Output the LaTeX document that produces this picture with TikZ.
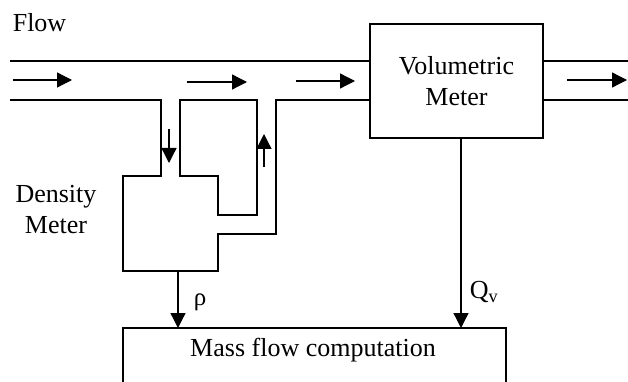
\documentclass[tikz,border=0pt]{standalone}
\usepackage{fontspec}
\setmainfont{Liberation Serif}
\usetikzlibrary{arrows.meta}
\begin{document}
\begin{tikzpicture}[x=1pt, y=-1pt, line width=1.6pt,
    every node/.style={font=\fontsize{26}{31}\selectfont, inner sep=0pt},
    flowarrow/.style={-{Triangle[length=15pt, width=15pt]}, line width=1.3pt},
    sigarrow/.style={-{Triangle[length=15pt, width=15pt]}, line width=1.3pt}]
        \useasboundingbox (0,0) rectangle (628,382);
        % pipe
        \draw (10,61)--(370,61);
        \draw (543,61)--(628,61);
        \draw (543,100)--(628,100);
        \draw (10,100)--(161,100)--(161,176)--(123,176)--(123,271)--(218,271)--(218,234)--(276,234)--(276,100)--(370,100);
        \draw (180,176)--(180,100)--(257,100)--(257,215)--(218,215)--(218,176)--cycle;
        % flow directions
        \draw[flowarrow] (13,80)--(72,80);
        \draw[flowarrow] (187,82)--(247,82);
        \draw[flowarrow] (296,81)--(355,81);
        \draw[flowarrow] (567,80)--(627,80);
        \draw[flowarrow] (169,129)--(169,163);
        \draw[flowarrow] (264,167)--(264,134);
        % blocks
        \node[draw, minimum width=173pt, minimum height=114pt, align=center] (vol) at (456.5,81) {Volumetric\\Meter};
        \node[align=center] (dens) at (56,210) {Density\\Meter};
        \node[anchor=west] (flow) at (12,23) {Flow};
        \coordinate (densout) at (178,271);
        \coordinate (rhoin) at (178,328);
        \coordinate (qvout) at (461,138);
        \coordinate (qvin) at (461,328);
        \draw (123,382)--(123,328)--(506,328)--(506,382);
        \node (mass) at (313,350) {Mass flow computation};
        % signals
        \draw[sigarrow] (densout)--(rhoin);
        \draw[sigarrow] (qvout)--(qvin);
        \node[font=\fontsize{25}{30}\selectfont] (rho) at (200,302) {ρ};
        \node (qv) at (484,292) {Q\textsubscript{v}};
    \end{tikzpicture}
\end{document}
